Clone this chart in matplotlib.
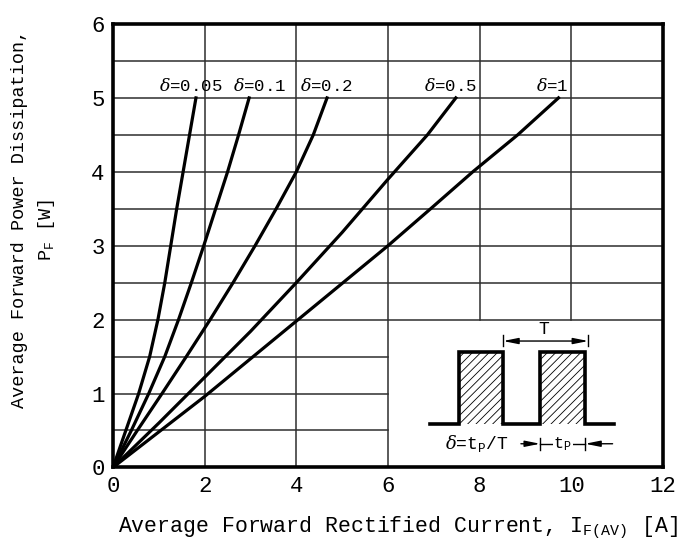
import matplotlib
matplotlib.use('Agg')
import matplotlib.pyplot as plt
from matplotlib.patches import Rectangle

plt.rcParams['font.family'] = ['Liberation Mono', 'DejaVu Sans Mono']
plt.rcParams['mathtext.fontset'] = 'custom'
plt.rcParams['mathtext.rm'] = 'Liberation Mono'
plt.rcParams['mathtext.it'] = 'DejaVu Serif:italic'
plt.rcParams['hatch.linewidth'] = 0.6

# curves (current A, power W)
x_005 = [0, 0.28, 0.56, 0.8, 0.98, 1.13, 1.26, 1.39, 1.53, 1.67, 1.81]
y_005 = [0, 0.5, 1.0, 1.5, 2.0, 2.5, 3.0, 3.5, 4.0, 4.5, 5.0]
x_01 = [0, 0.4, 0.78, 1.13, 1.43, 1.71, 1.98, 2.24, 2.5, 2.74, 2.97]
y_01 = [0, 0.5, 1.0, 1.5, 2.0, 2.5, 3.0, 3.5, 4.0, 4.5, 5.0]
x_02 = [0, 0.53, 1.07, 1.6, 2.12, 2.62, 3.1, 3.56, 4.0, 4.37, 4.67]
y_02 = [0, 0.5, 1.0, 1.5, 2.0, 2.5, 3.0, 3.5, 4.0, 4.5, 5.0]
x_05 = [0, 1, 2, 3, 4, 5, 6, 6.86, 7.48]
y_05 = [0, 0.6, 1.22, 1.84, 2.5, 3.18, 3.9, 4.5, 5.0]
x_1 = [0, 2, 4, 6, 6.93, 7.85, 8.83, 9.72]
y_1 = [0, 0.96, 1.98, 3.0, 3.5, 4.0, 4.5, 5.0]

curve_labels = ['0.05', '0.1', '0.2', '0.5', '1']
label_x = [1.7, 3.2, 4.65, 7.37, 9.58]

x_ticks = [0, 2, 4, 6, 8, 10, 12]
y_ticks = [0, 1, 2, 3, 4, 5, 6]

fig = plt.figure(figsize=(6.94, 5.44), dpi=100)
ax = fig.add_axes([113 / 694, 1 - 467.4 / 544, 550 / 694, 443.4 / 544])
ax.set_xlim(0, 12)
ax.set_ylim(0, 6)

# grid, interrupted by the waveform inset in the lower right
gcol = '#2e2e2e'
for yv in [0.5, 1.0, 1.5]:
    ax.plot([0, 6], [yv, yv], color=gcol, lw=1.1, zorder=1)
for yv in [2.0, 2.5, 3.0, 3.5, 4.0, 4.5, 5.0, 5.5]:
    ax.plot([0, 12], [yv, yv], color=gcol, lw=1.1, zorder=1)
for xv in [2, 4, 6]:
    ax.plot([xv, xv], [0, 6], color=gcol, lw=1.1, zorder=1)
for xv in [8, 10]:
    ax.plot([xv, xv], [2, 6], color=gcol, lw=1.1, zorder=1)

for xs, ys in [(x_005, y_005), (x_01, y_01), (x_02, y_02), (x_05, y_05), (x_1, y_1)]:
    ax.plot(xs, ys, color='black', lw=2.3, solid_joinstyle='round', zorder=3)

for lab, lx in zip(curve_labels, label_x):
    ax.text(lx, 5.17, r'$\delta$=' + lab, ha='center', va='center', fontsize=12.5, zorder=4)

# waveform inset
base = 0.59
top = 1.56
wave_x = [6.92, 7.54, 7.54, 8.51, 8.51, 9.32, 9.32, 10.30, 10.30, 10.92]
wave_y = [base, base, top, top, base, base, top, top, base, base]
for x0, x1 in [(7.54, 8.51), (9.32, 10.30)]:
    ax.add_patch(Rectangle((x0, base), x1 - x0, top - base, fill=False, hatch='////',
                           lw=0, zorder=3))
ax.plot(wave_x, wave_y, color='black', lw=2.6, zorder=4, solid_joinstyle='miter')

# T dimension
ax.plot([8.51, 8.51], [1.64, 1.79], color='black', lw=1.0)
ax.plot([10.37, 10.37], [1.64, 1.79], color='black', lw=1.0)
ax.annotate('', xy=(8.51, 1.71), xytext=(10.37, 1.71),
            arrowprops=dict(arrowstyle='<|-|>,head_length=0.9,head_width=0.18',
                            color='black', lw=1.0, shrinkA=0, shrinkB=0))
ax.text(9.39, 1.86, 'T', ha='center', va='center', fontsize=13)

# duty cycle definition and tp dimension
ax.text(7.93, 0.32, r'$\delta$=t$_{\mathrm{P}}$/T', ha='center', va='center', fontsize=13)
ax.plot([9.32, 9.32], [0.24, 0.40], color='black', lw=1.0)
ax.plot([10.30, 10.30], [0.24, 0.40], color='black', lw=1.0)
ax.plot([9.32, 10.30], [0.32, 0.32], color='black', lw=1.0)
ax.text(9.81, 0.32, r't$_{\mathrm{P}}$', ha='center', va='center', fontsize=12,
        bbox=dict(facecolor='white', edgecolor='none', pad=0.5))
ax.annotate('', xy=(9.32, 0.32), xytext=(8.9, 0.32),
            arrowprops=dict(arrowstyle='-|>,head_length=0.9,head_width=0.18',
                            color='black', lw=1.0, shrinkA=0, shrinkB=0))
ax.annotate('', xy=(10.30, 0.32), xytext=(10.9, 0.32),
            arrowprops=dict(arrowstyle='-|>,head_length=0.9,head_width=0.18',
                            color='black', lw=1.0, shrinkA=0, shrinkB=0))

ax.set_xticks(x_ticks)
ax.set_yticks(y_ticks)
ax.tick_params(length=0, labelsize=16, pad=6)
for s in ax.spines.values():
    s.set_linewidth(2.6)

fig.text(398 / 694, 1 - 528 / 544,
         r'Average Forward Rectified Current, I$_{\mathrm{F(AV)}}$ [A]',
         ha='center', va='center', fontsize=15.5)
fig.text(20 / 694, 1 - 219 / 544, 'Average Forward Power Dissipation,',
         ha='center', va='center', rotation=90, fontsize=13.3)
fig.text(47 / 694, 1 - 230 / 544, r'P$_{\mathrm{F}}$ [W]',
         ha='center', va='center', rotation=90, fontsize=13.3)

fig.savefig('out.png', dpi=100)
